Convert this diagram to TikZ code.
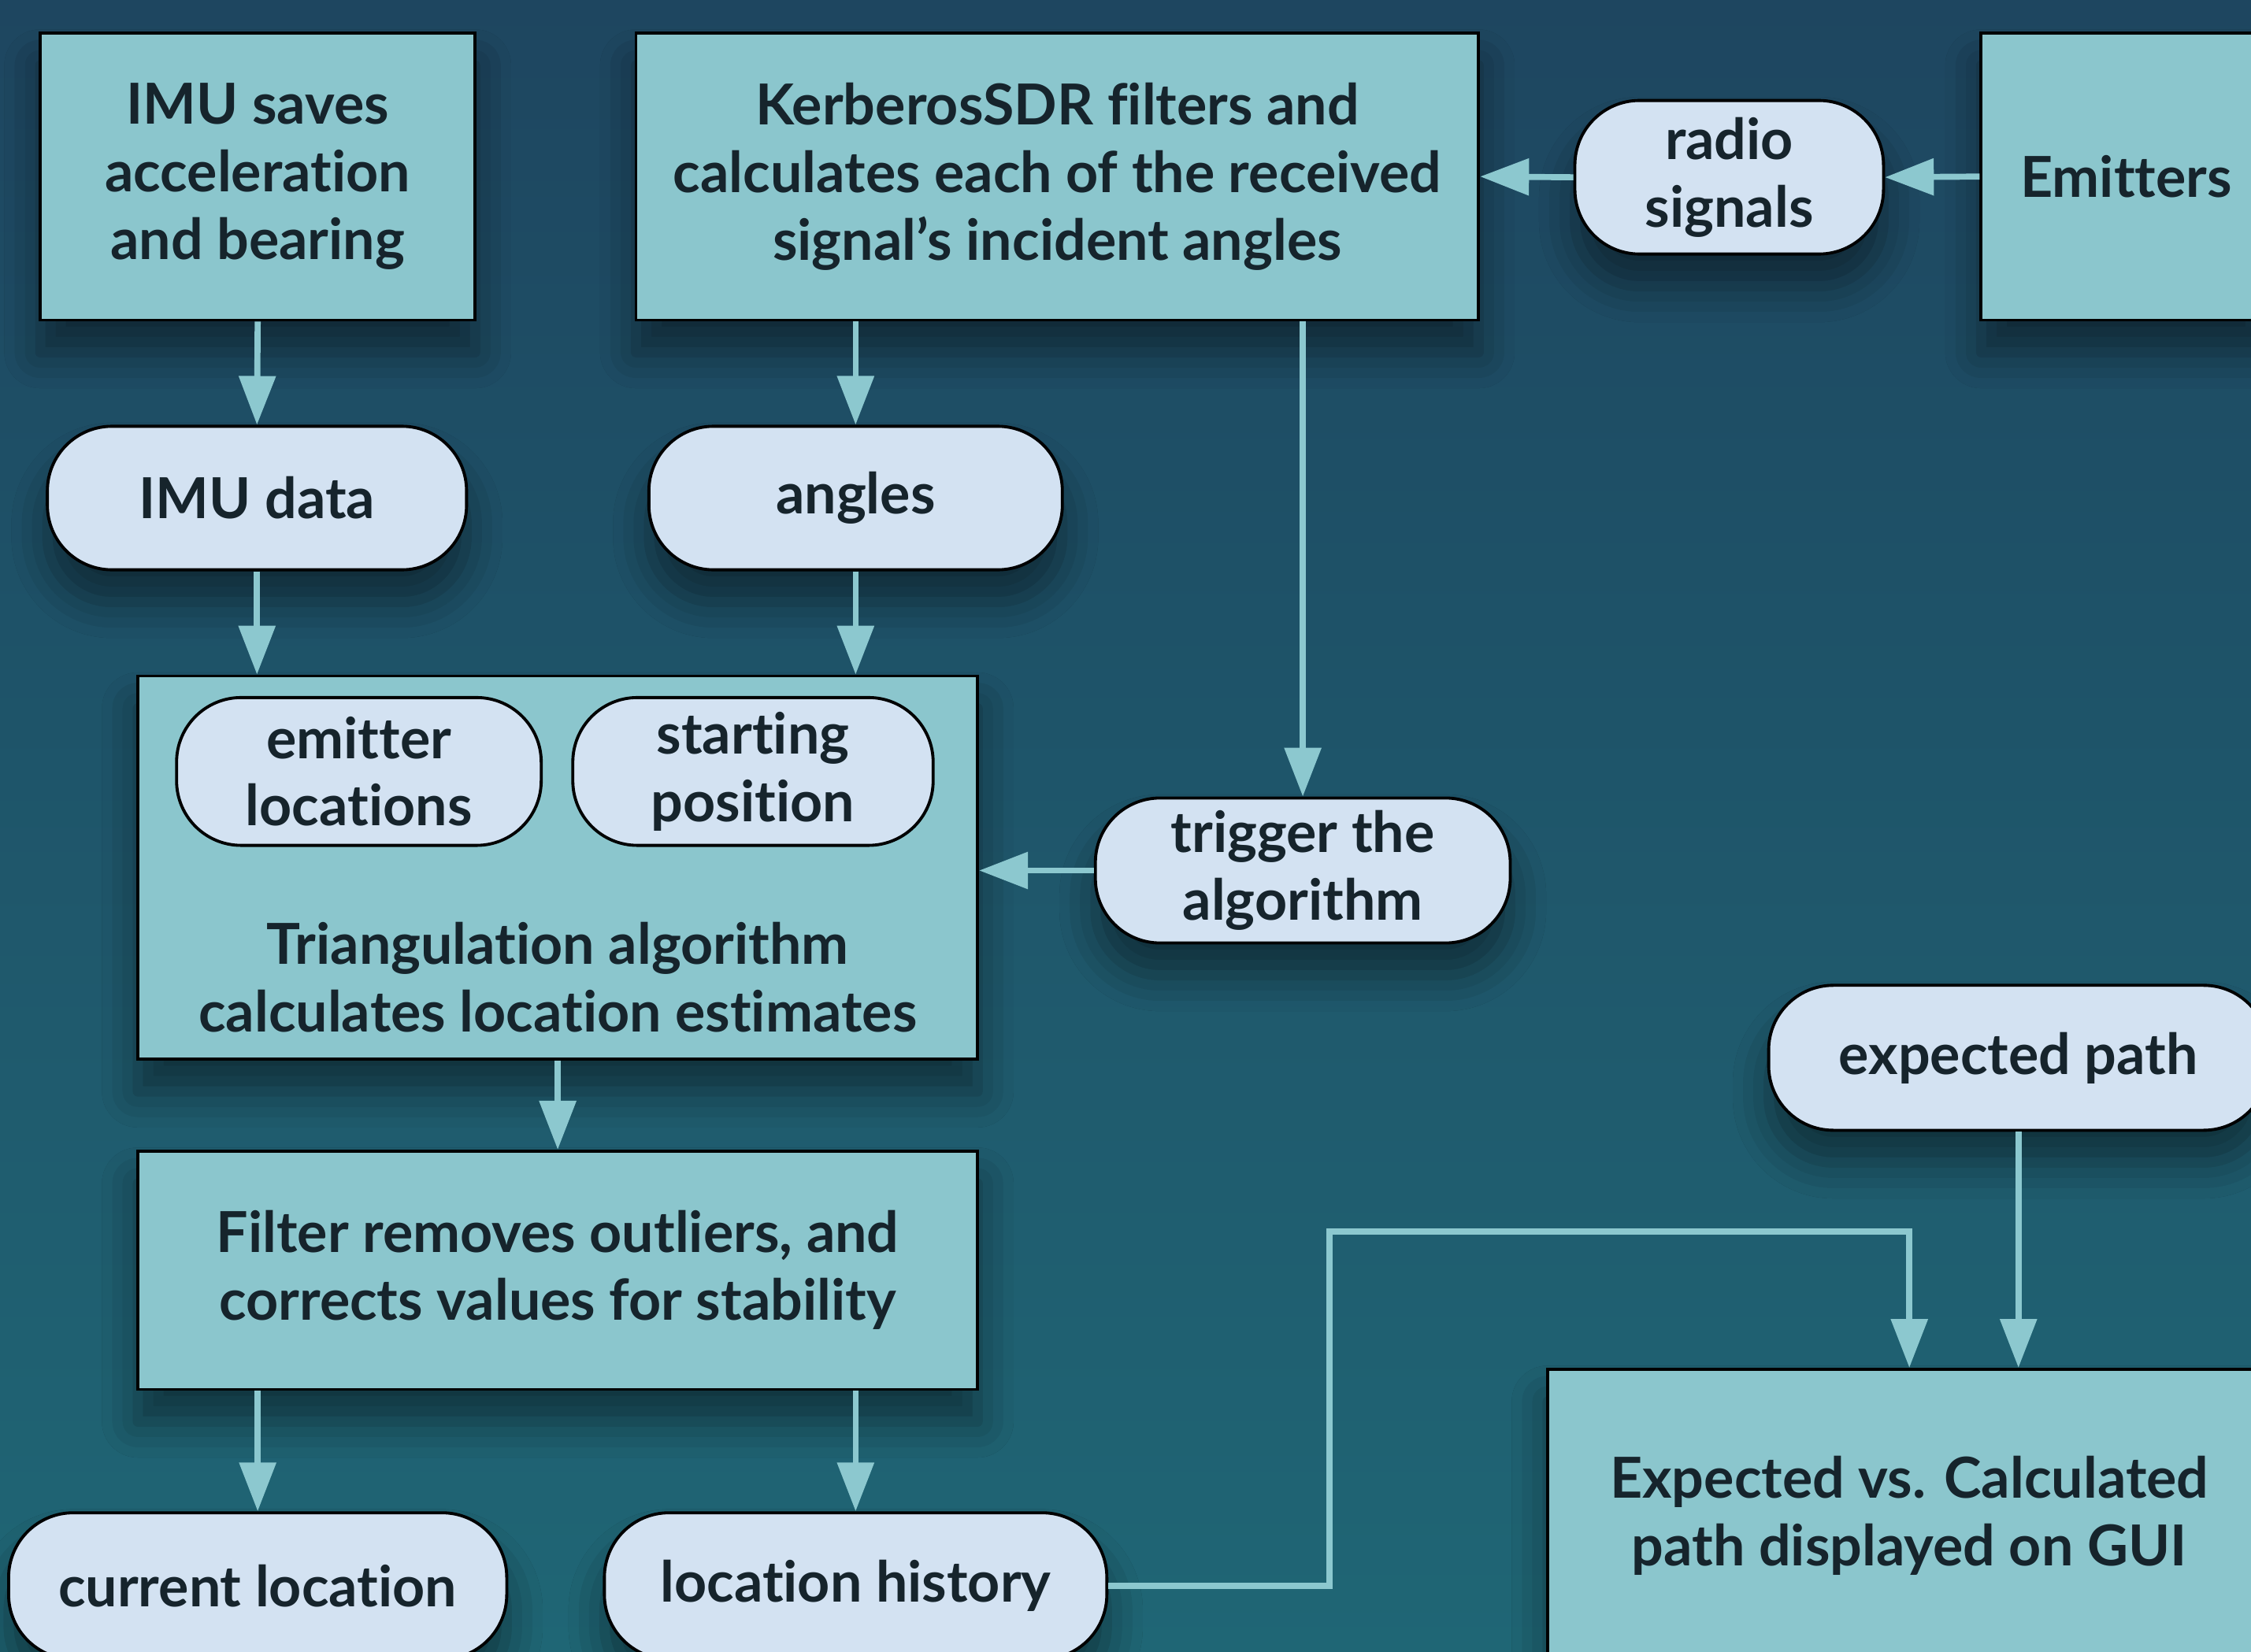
\documentclass[tikz,border=0pt]{standalone}
\usepackage{fontspec}
\setmainfont{Lato}[Ligatures=NoCommon]
\newcommand\boxfont{\bfseries}
\usepackage{tikz}
\usetikzlibrary{arrows.meta,shadows.blur}

\definecolor{bgtop}{RGB}{30,70,96}
\definecolor{bgbot}{RGB}{31,102,117}
\definecolor{boxfill}{RGB}{139,198,205}
\definecolor{pillfill}{RGB}{211,226,242}
\definecolor{arrowcol}{RGB}{140,200,207}
\definecolor{inkcol}{RGB}{22,36,44}

\begin{document}
\begin{tikzpicture}[plain/.style={rectangle, draw=black, line width=1.2pt, fill=boxfill, text=inkcol, align=center, inner sep=0pt, font=\boxfont\fontsize{22.4}{26.75}\selectfont},
    box/.style={plain, blur shadow={shadow xshift=0cm, shadow yshift=-0.45cm, shadow blur radius=0.5cm, shadow opacity=45}},
    pill/.style={box, fill=pillfill, rounded corners=0.9cm},
    innerpill/.style={plain, fill=pillfill, rounded corners=0.9cm},
    txt/.style={text=inkcol, align=center, font=\boxfont\fontsize{22.4}{26.75}\selectfont},
    arr/.style={draw=arrowcol, line width=2.4pt, -{Triangle[length=0.68cm, width=0.5cm]}}]
    \useasboundingbox (0,0) rectangle (31.36,-23.02);
    \clip (0,0) rectangle (31.36,-23.02);
    \shade[top color=bgtop, bottom color=bgbot] (0,0) rectangle (31.36,-23.02);

    % top row
    \node[box, minimum width=6.06cm, minimum height=4cm] (imu) at (3.59,-2.46) {IMU saves\\acceleration\\and bearing};
    \node[box, minimum width=11.74cm, minimum height=4cm] (kerb) at (14.73,-2.46) {KerberosSDR filters and\\calculates each of the received\\signal’s incident angles};
    \node[box, minimum width=4.04cm, minimum height=4cm] (emit) at (29.62,-2.46) {Emitters};
    \node[pill, minimum width=4.3cm, minimum height=2.14cm] (radio) at (24.09,-2.47) {radio\\signals};

    % data
    \node[pill, minimum width=5.84cm, minimum height=2cm] (imudata) at (3.58,-6.94) {IMU data};
    \node[pill, minimum width=5.76cm, minimum height=2cm] (angles) at (11.92,-6.94) {angles};

    % algorithm
    \node[box, minimum width=11.7cm, minimum height=5.34cm] (tri) at (7.77,-12.09) {};
    \node[txt] (tritext) at (7.77,-13.62) {Triangulation algorithm\\calculates location estimates};
    \node[innerpill, minimum width=5.08cm, minimum height=2.06cm] (emloc) at (5.0,-10.75) {emitter\\locations};
    \node[innerpill, minimum width=5.02cm, minimum height=2.06cm] (startpos) at (10.49,-10.75) {starting\\position};
    \node[pill, minimum width=5.78cm, minimum height=2.02cm] (trigger) at (18.15,-12.13) {trigger the\\algorithm};

    \node[box, minimum width=11.7cm, minimum height=3.32cm] (filter) at (7.77,-17.70) {Filter removes outliers, and\\corrects values for stability};
    \node[pill, minimum width=6.94cm, minimum height=2.04cm] (curloc) at (3.59,-22.10) {current location};
    \node[pill, minimum width=7cm, minimum height=2.04cm] (lochist) at (11.92,-22.10) {location history};

    % output
    \node[pill, minimum width=6.96cm, minimum height=2.02cm] (expected) at (28.12,-14.74) {expected path};
    \node[box, minimum width=10.08cm, minimum height=4.08cm] (gui) at (26.6,-21.12) {Expected vs. Calculated\\path displayed on GUI};
    \coordinate (bend) at (18.52,-17.16);

    \draw[arr] (emit.west) -- (radio.east);
    \draw[arr] (radio.west) -- (kerb.east);
    \draw[arr] (imu.south) -- (imudata.north);
    \draw[arr] (kerb.south -| angles.north) -- (angles.north);
    \draw[arr] (kerb.south -| trigger.north) -- (trigger.north);
    \draw[arr] (imudata.south) -- (imudata.south |- tri.north);
    \draw[arr] (angles.south) -- (angles.south |- tri.north);
    \draw[arr] (trigger.west) -- (trigger.west -| tri.east);
    \draw[arr] (tri.south) -- (filter.north);
    \draw[arr] (filter.south -| curloc.north) -- (curloc.north);
    \draw[arr] (filter.south -| lochist.north) -- (lochist.north);
    \draw[arr] (lochist.east) -| (bend) -| (gui.north);
    \draw[arr] (expected.south) -- (expected.south |- gui.north);
\end{tikzpicture}
\end{document}
